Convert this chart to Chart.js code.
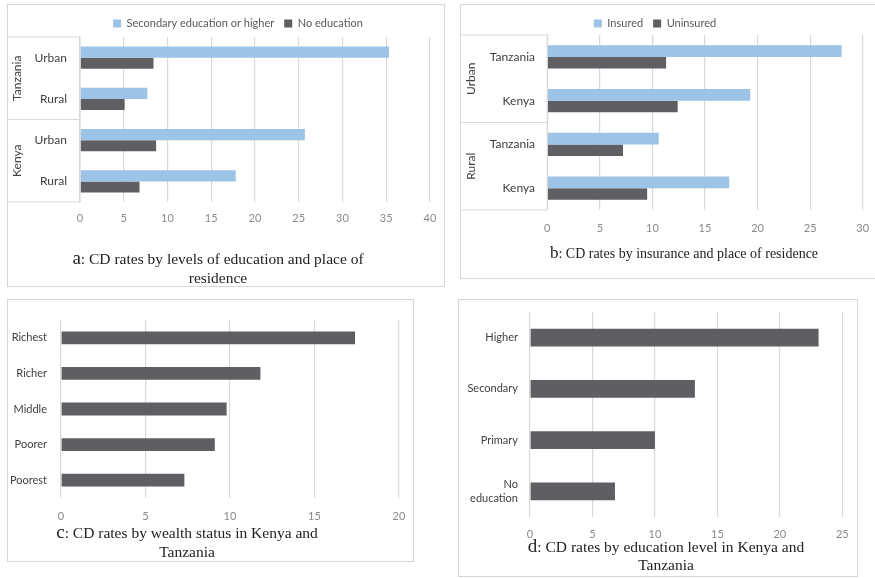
<!DOCTYPE html>
<html>
<head>
<meta charset="utf-8">
<script src="https://cdn.jsdelivr.net/npm/chart.js@4/dist/chart.umd.min.js"></script>
<style>
  html, body { margin: 0; padding: 0; background: #fff; }
  body { position: relative; width: 875px; height: 578px; overflow: hidden; }
  .panel { position: absolute; box-sizing: border-box; border: 1.5px solid #d6d6d6; background: #fff; }
  canvas { position: absolute; }
  .cap { position: absolute; width: 420px; text-align: center; font-family: "Liberation Serif", "Times New Roman", serif;
         font-size: 15.5px; line-height: 19px; color: #222; white-space: nowrap; }
  .cap .k { font-size: 19px; }
  .cap.small { font-size: 14px; }
  .cap.small .k { font-size: 17px; }
</style>
</head>
<body>
<div class="panel" style="left:7px;top:4px;width:438px;height:283px"></div>
<div class="panel" style="left:460px;top:4px;width:430px;height:275px"></div>
<div class="panel" style="left:7px;top:299px;width:407px;height:263px"></div>
<div class="panel" style="left:458px;top:299px;width:400px;height:278px"></div>

<canvas id="ca" width="438" height="283" style="left:7px;top:4px"></canvas>
<canvas id="cb" width="415" height="275" style="left:460px;top:4px"></canvas>
<canvas id="cc" width="407" height="263" style="left:7px;top:299px"></canvas>
<canvas id="cd" width="400" height="278" style="left:458px;top:299px"></canvas>

<div class="cap" style="left:8px;top:248px"><span class="k">a</span>: CD rates by levels of education and place of<br>residence</div>
<div class="cap small" style="left:474px;top:243px"><span class="k">b</span>: CD rates by insurance and place of residence</div>
<div class="cap" style="left:-23px;top:522px"><span class="k">c</span>: CD rates by wealth status in Kenya and<br>Tanzania</div>
<div class="cap" style="left:456px;top:537px;line-height:18px"><span class="k">d</span>: CD rates by education level in Kenya and<br>Tanzania</div>

<script>
// ---- data ----
// (a) rates by education and place of residence
const groupsA = ['Tanzania', 'Kenya'];
const groupSizesA = [2, 2];
const residenceA = ['Urban', 'Rural', 'Urban', 'Rural'];
const secondaryOrHigher = [35.3, 7.7, 25.7, 17.8];
const noEducation = [8.4, 5.1, 8.7, 6.8];
const ticksA = [0, 5, 10, 15, 20, 25, 30, 35, 40];

// (b) rates by insurance and place of residence
const groupsB = ['Urban', 'Rural'];
const groupSizesB = [2, 2];
const countryB = ['Tanzania', 'Kenya', 'Tanzania', 'Kenya'];
const insured = [28.0, 19.3, 10.6, 17.3];
const uninsured = [11.3, 12.4, 7.2, 9.5];
const ticksB = [0, 5, 10, 15, 20, 25, 30];

// (c) rates by wealth status
const wealth = ['Richest', 'Richer', 'Middle', 'Poorer', 'Poorest'];
const wealthRates = [17.4, 11.8, 9.8, 9.1, 7.3];
const ticksC = [0, 5, 10, 15, 20];

// (d) rates by education level
const eduLevels = ['Higher', 'Secondary', 'Primary', ['No', 'education']];
const eduRates = [23.1, 13.2, 10.0, 6.8];
const ticksD = [0, 5, 10, 15, 20, 25];

// ---- styling ----
Chart.defaults.font.family = 'Lato, "Open Sans", sans-serif';
Chart.defaults.animation = false;
const LIGHT_BLUE = '#9dc3e6';
const DARK_GREY = '#5f5f63';
const GRID = '#d9d9d9';

// Centre the legend row on a chosen x position.
const legendShift = {
  id: 'legendShift',
  afterLayout(chart, args, opts) {
    const lg = chart.legend;
    if (!lg || opts.centerX == null) return;
    const dx = opts.centerX - (lg.left + lg.right) / 2;
    lg.left += dx; lg.right += dx;
  }
};

// Two-level category axis: boxed outer groups with rotated names.
const categoryGroups = {
  id: 'categoryGroups',
  afterDraw(chart, args, opts) {
    if (!opts.names) return;
    const {ctx, chartArea} = chart;
    const y = chart.scales.y;
    const left = opts.boxLeft;
    ctx.save();
    ctx.strokeStyle = GRID;
    ctx.lineWidth = 1.2;
    const line = (x1, y1, x2, y2) => { ctx.beginPath(); ctx.moveTo(x1, y1); ctx.lineTo(x2, y2); ctx.stroke(); };
    line(left, chartArea.top, chartArea.left, chartArea.top);
    line(left, chartArea.bottom, chartArea.left, chartArea.bottom);
    line(chartArea.left, chartArea.top, chartArea.left, chartArea.bottom);
    let start = 0;
    opts.names.forEach((name, g) => {
      const end = start + opts.sizes[g] - 1;
      const top = start === 0 ? chartArea.top : (y.getPixelForValue(start - 1) + y.getPixelForValue(start)) / 2;
      const bottom = end === y.ticks.length - 1 ? chartArea.bottom : (y.getPixelForValue(end) + y.getPixelForValue(end + 1)) / 2;
      if (start > 0) line(left, top, chartArea.left, top);
      ctx.save();
      ctx.translate(opts.labelX, (top + bottom) / 2);
      ctx.rotate(-Math.PI / 2);
      ctx.fillStyle = '#404040';
      ctx.font = '12px ' + Chart.defaults.font.family;
      ctx.textAlign = 'center';
      ctx.textBaseline = 'middle';
      ctx.fillText(name, 0, 0);
      ctx.restore();
      start = end + 1;
    });
    ctx.restore();
  }
};

function makeChart(id, cfg) {
  const xTicks = cfg.ticks;
  return new Chart(document.getElementById(id), {
    type: 'bar',
    data: { labels: cfg.labels, datasets: cfg.datasets },
    plugins: [legendShift, categoryGroups],
    options: {
      responsive: false,
      indexAxis: 'y',
      layout: { padding: cfg.padding },
      datasets: { bar: { categoryPercentage: cfg.catPct, barPercentage: cfg.barPct, borderWidth: 0 } },
      plugins: {
        tooltip: { enabled: false },
        legend: cfg.legend ? {
          display: true,
          maxHeight: cfg.legend.maxHeight,
          labels: { boxWidth: 8, boxHeight: 8, padding: 10, color: '#595959', font: { size: 11 } }
        } : { display: false },
        legendShift: cfg.legend ? { centerX: cfg.legend.centerX } : {},
        categoryGroups: cfg.groups || {}
      },
      scales: {
        x: {
          min: xTicks[0], max: xTicks[xTicks.length - 1],
          ticks: { stepSize: xTicks[1] - xTicks[0], padding: cfg.xPad, color: '#8a8a8a', font: { size: 11 } },
          grid: { color: GRID, lineWidth: 1.2, drawTicks: false },
          border: { display: false },
          afterFit(s) { s.height = cfg.xHeight; s.paddingLeft = 0; s.paddingRight = 0; }
        },
        y: {
          ticks: { padding: cfg.yPad, color: '#404040', font: { size: cfg.catFont } },
          grid: { display: false, drawTicks: false },
          border: { display: false },
          afterFit(s) { s.width = cfg.yWidth; s.paddingTop = 0; s.paddingBottom = 0; }
        }
      }
    }
  });
}

makeChart('ca', {
  labels: residenceA,
  datasets: [
    { label: 'Secondary education or higher', data: secondaryOrHigher, backgroundColor: LIGHT_BLUE },
    { label: 'No education', data: noEducation, backgroundColor: DARK_GREY }
  ],
  ticks: ticksA,
  padding: { top: 4, right: 15, bottom: 0, left: 0 },
  legend: { maxHeight: 29, centerX: 231 },
  catPct: 0.54, barPct: 1,
  xHeight: 85, xPad: 10,
  yWidth: 73, yPad: 13, catFont: 12,
  groups: { names: groupsA, sizes: groupSizesA, boxLeft: 0, labelX: 10 }
});

makeChart('cb', {
  labels: countryB,
  datasets: [
    { label: 'Insured', data: insured, backgroundColor: LIGHT_BLUE },
    { label: 'Uninsured', data: uninsured, backgroundColor: DARK_GREY }
  ],
  ticks: ticksB,
  padding: { top: 4, right: 12.3, bottom: 0, left: 0 },
  legend: { maxHeight: 27, centerX: 195 },
  catPct: 0.53, barPct: 1,
  xHeight: 69, xPad: 11.4,
  yWidth: 87.3, yPad: 12.3, catFont: 12,
  groups: { names: groupsB, sizes: groupSizesB, boxLeft: 0, labelX: 11 }
});

makeChart('cc', {
  labels: wealth,
  datasets: [{ label: 'CD rate', data: wealthRates, backgroundColor: DARK_GREY }],
  ticks: ticksC,
  padding: { top: 21, right: 15, bottom: 0, left: 0 },
  catPct: 0.4, barPct: 0.9,
  xHeight: 64, xPad: 11.4,
  yWidth: 54, yPad: 14, catFont: 11
});

makeChart('cd', {
  labels: eduLevels,
  datasets: [{ label: 'CD rate', data: eduRates, backgroundColor: DARK_GREY }],
  ticks: ticksD,
  padding: { top: 13, right: 15.7, bottom: 0, left: 0 },
  catPct: 0.4, barPct: 0.865,
  xHeight: 60, xPad: 10.4,
  yWidth: 72, yPad: 12, catFont: 11
});
</script>
</body>
</html>
